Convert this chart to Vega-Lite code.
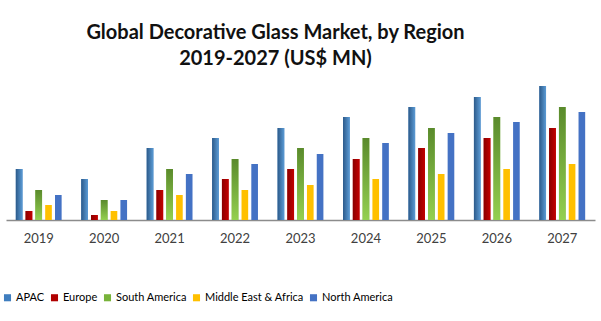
{
  "$schema": "https://vega.github.io/schema/vega-lite/v6.json",
  "width": 589,
  "height": 140,
  "autosize": "none",
  "padding": {"left": 6, "top": 80, "right": 6, "bottom": 101},
  "background": "white",
  "title": {
    "text": ["Global Decorative Glass Market, by Region", "2019-2027 (US$ MN)"],
    "font": "Lato",
    "fontSize": 20,
    "fontWeight": "bold",
    "color": "#111111",
    "lineHeight": 26,
    "anchor": "middle",
    "dx": -25,
    "offset": 11
  },
  "data": {
    "values": [
      {"year": "2019", "region": "APAC", "value": 51},
      {"year": "2019", "region": "Europe", "value": 9},
      {"year": "2019", "region": "South America", "value": 30},
      {"year": "2019", "region": "Middle East & Africa", "value": 15},
      {"year": "2019", "region": "North America", "value": 25},
      {"year": "2020", "region": "APAC", "value": 41},
      {"year": "2020", "region": "Europe", "value": 5},
      {"year": "2020", "region": "South America", "value": 20},
      {"year": "2020", "region": "Middle East & Africa", "value": 9},
      {"year": "2020", "region": "North America", "value": 20},
      {"year": "2021", "region": "APAC", "value": 72},
      {"year": "2021", "region": "Europe", "value": 30},
      {"year": "2021", "region": "South America", "value": 51},
      {"year": "2021", "region": "Middle East & Africa", "value": 25},
      {"year": "2021", "region": "North America", "value": 46},
      {"year": "2022", "region": "APAC", "value": 82},
      {"year": "2022", "region": "Europe", "value": 41},
      {"year": "2022", "region": "South America", "value": 61},
      {"year": "2022", "region": "Middle East & Africa", "value": 30},
      {"year": "2022", "region": "North America", "value": 56},
      {"year": "2023", "region": "APAC", "value": 92},
      {"year": "2023", "region": "Europe", "value": 51},
      {"year": "2023", "region": "South America", "value": 72},
      {"year": "2023", "region": "Middle East & Africa", "value": 35},
      {"year": "2023", "region": "North America", "value": 66},
      {"year": "2024", "region": "APAC", "value": 103},
      {"year": "2024", "region": "Europe", "value": 61},
      {"year": "2024", "region": "South America", "value": 82},
      {"year": "2024", "region": "Middle East & Africa", "value": 41},
      {"year": "2024", "region": "North America", "value": 77},
      {"year": "2025", "region": "APAC", "value": 113},
      {"year": "2025", "region": "Europe", "value": 72},
      {"year": "2025", "region": "South America", "value": 92},
      {"year": "2025", "region": "Middle East & Africa", "value": 46},
      {"year": "2025", "region": "North America", "value": 87},
      {"year": "2026", "region": "APAC", "value": 123},
      {"year": "2026", "region": "Europe", "value": 82},
      {"year": "2026", "region": "South America", "value": 103},
      {"year": "2026", "region": "Middle East & Africa", "value": 51},
      {"year": "2026", "region": "North America", "value": 98},
      {"year": "2027", "region": "APAC", "value": 134},
      {"year": "2027", "region": "Europe", "value": 92},
      {"year": "2027", "region": "South America", "value": 113},
      {"year": "2027", "region": "Middle East & Africa", "value": 56},
      {"year": "2027", "region": "North America", "value": 108}
    ]
  },
  "encoding": {
    "x": {
      "field": "year",
      "type": "nominal",
      "scale": {"paddingInner": 0.3, "paddingOuter": 0.15},
      "axis": {
        "title": null,
        "labelAngle": 0,
        "ticks": false,
        "labelPadding": 12,
        "labelFont": "Lato",
        "labelFontSize": 13,
        "labelColor": "#404040",
        "domainColor": "#8c8c8c",
        "domainWidth": 1.5,
        "grid": false
      }
    },
    "xOffset": {
      "field": "region",
      "type": "nominal",
      "sort": ["APAC", "Europe", "South America", "Middle East & Africa", "North America"],
      "scale": {
        "domain": ["APAC", "Europe", "South America", "Middle East & Africa", "North America"],
        "paddingInner": 0.32,
        "paddingOuter": 0
      }
    },
    "y": {
      "field": "value",
      "type": "quantitative",
      "scale": {"domain": [0, 140], "nice": false},
      "axis": null
    }
  },
  "layer": [
    {
      "mark": {"type": "bar"},
      "encoding": {
        "color": {
          "field": "region",
          "type": "nominal",
          "sort": ["APAC", "Europe", "South America", "Middle East & Africa", "North America"],
          "scale": {
            "domain": ["APAC", "Europe", "South America", "Middle East & Africa", "North America"],
            "range": ["#3F7EBF", "#B00000", "#78B33A", "#FFC000", "#4472C4"]
          },
          "legend": {
            "title": null,
            "orient": "none",
            "direction": "horizontal",
            "legendX": -4,
            "legendY": 212,
            "symbolType": "square",
            "symbolSize": 50,
            "symbolStrokeWidth": 0,
            "labelFont": "Lato",
            "labelFontSize": 11,
            "labelColor": "#000000",
            "columnPadding": 4,
            "labelOffset": 3
          }
        }
      }
    },
    {
      "transform": [{"filter": "datum.region === 'APAC'"}],
      "mark": {
        "type": "bar",
        "color": {
          "gradient": "linear", "x1": 0, "y1": 0, "x2": 1, "y2": 0,
          "stops": [{"offset": 0, "color": "#2C5A8A"}, {"offset": 1, "color": "#5B9BD5"}]
        }
      }
    },
    {
      "transform": [{"filter": "datum.region === 'Europe'"}],
      "mark": {
        "type": "bar",
        "color": {
          "gradient": "linear", "x1": 0, "y1": 0, "x2": 1, "y2": 0,
          "stops": [{"offset": 0, "color": "#8A0000"}, {"offset": 1, "color": "#C40000"}]
        }
      }
    },
    {
      "transform": [{"filter": "datum.region === 'South America'"}],
      "mark": {
        "type": "bar",
        "color": {
          "gradient": "linear", "x1": 0, "y1": 0, "x2": 0, "y2": 1,
          "stops": [{"offset": 0, "color": "#5A8A2C"}, {"offset": 1, "color": "#94D050"}]
        }
      }
    }
  ],
  "config": {"view": {"stroke": null}}
}
